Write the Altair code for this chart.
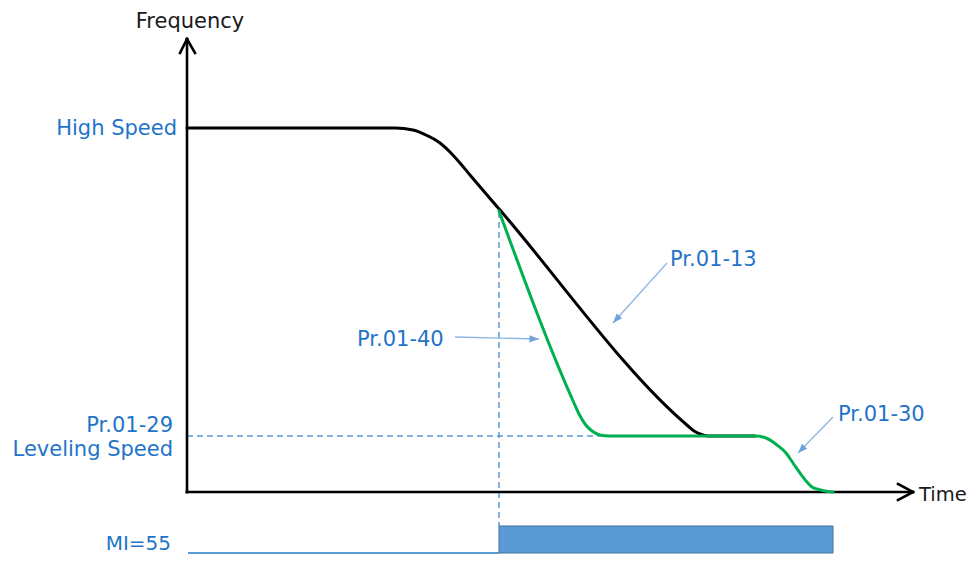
import altair as alt
import numpy as np
import pandas as pd

# ---- data (time units = arbitrary, frequency units = arbitrary) ----
black_t = [0, 208, 226, 241, 253, 263, 273, 283, 313, 501, 507, 513, 521, 568]
black_f = [364, 364, 362, 356, 349, 340, 329, 317, 282, 66, 61, 58, 56, 56]

green_t = [312, 387, 392, 398, 405, 413, 423, 568, 579, 590, 599, 606, 613, 620, 625, 630, 638, 646]
green_f = [281, 89, 78, 68, 61, 57, 56, 56, 54, 47, 39, 29, 19, 10, 5, 3, 1, 0]

# axes (with open chevron arrow heads)
axis_t = [0, 0, -7, 0, 0, 711, 726]
axis_f = [0, 0, 439, 453, 0, 8, 0]
axis_t2 = [0, 726, 0, 8, 0, 726, 711]
axis_f2 = [453, 0, 453, 439, 0, 0, -8]

# dashed guides: decel switch moment and leveling speed
dash_t = [312, 0]
dash_f = [280, 56]
dash_t2 = [312, 513]
dash_f2 = [-34, 56]

# MI=55 signal
mi_line_t = [1, 312]
mi_line_f = [-61, -61]
mi_bar_t, mi_bar_t2 = [312], [646]
mi_bar_f, mi_bar_f2 = [-34], [-61]

# annotation arrows (start -> tip)
arr_t = [480, 268, 646]
arr_f = [229, 155, 75]
arr_t2 = [426, 352, 611]
arr_f2 = [169, 153, 39]

# labels
lab_text = ["Frequency", "High Speed", "Pr.01-29", "Leveling Speed", "MI=55", "Time",
            "Pr.01-13", "Pr.01-40", "Pr.01-30"]
lab_t = [3, -10, -14, -14, -16, 732, 483, 170, 651]
lab_f = [464, 357, 60, 36, -58, -9, 226, 146, 71]
lab_size = [21, 21, 21, 21, 20, 19.5, 21, 21, 21]
lab_align = ["center", "right", "right", "right", "right", "left", "left", "left", "left"]
lab_color = ["#1a1a1a", "#1f74c9", "#1f74c9", "#1f74c9", "#1f74c9", "#1a1a1a",
             "#1f74c9", "#1f74c9", "#1f74c9"]

BLUE = "#5B9BD5"

xs = alt.Scale(domain=[-179, 780], nice=False, zero=False)
ys = alt.Scale(domain=[-63, 484], nice=False, zero=False)
X = lambda f="t": alt.X(f"{f}:Q", scale=xs, axis=None)
Y = lambda f="f": alt.Y(f"{f}:Q", scale=ys, axis=None)

black = pd.DataFrame({"t": black_t, "f": black_f, "i": range(len(black_t))})
green = pd.DataFrame({"t": green_t, "f": green_f, "i": range(len(green_t))})
axes = pd.DataFrame({"t": axis_t, "f": axis_f, "t2": axis_t2, "f2": axis_f2})
dash = pd.DataFrame({"t": dash_t, "f": dash_f, "t2": dash_t2, "f2": dash_f2})
mil = pd.DataFrame({"t": mi_line_t, "f": mi_line_f, "i": [0, 1]})
mib = pd.DataFrame({"t": mi_bar_t, "t2": mi_bar_t2, "f": mi_bar_f, "f2": mi_bar_f2})
arr = pd.DataFrame({"t": arr_t, "f": arr_f, "t2": arr_t2, "f2": arr_f2})
arr["ang"] = (np.degrees(np.arctan2(arr["t2"] - arr["t"], arr["f2"] - arr["f"])) + 360) % 360
labs = pd.DataFrame({"t": lab_t, "f": lab_f, "text": lab_text, "align": lab_align,
                     "color": lab_color, "size": lab_size})

layers = []

layers.append(alt.Chart(dash).mark_rule(color=BLUE, strokeWidth=1.5, strokeDash=[6, 4]).encode(
    x=X(), y=Y(), x2="t2:Q", y2="f2:Q"))

layers.append(alt.Chart(axes).mark_rule(color="black", strokeWidth=2.6, strokeCap="square").encode(
    x=X(), y=Y(), x2="t2:Q", y2="f2:Q"))

layers.append(alt.Chart(black).mark_line(color="black", strokeWidth=3, interpolate="monotone",
                                         strokeCap="round", strokeJoin="round").encode(
    x=X(), y=Y(), order="i:Q"))

layers.append(alt.Chart(green).mark_line(color="#00B050", strokeWidth=3, interpolate="monotone",
                                         strokeCap="round", strokeJoin="round").encode(
    x=X(), y=Y(), order="i:Q"))

layers.append(alt.Chart(mil).mark_line(color=BLUE, strokeWidth=2).encode(x=X(), y=Y(), order="i:Q"))

layers.append(alt.Chart(mib).mark_rect(color=BLUE, stroke="#41719C", strokeWidth=1).encode(
    x=X(), y=Y(), x2="t2:Q", y2="f2:Q"))

layers.append(alt.Chart(arr).mark_rule(color="#8DB6E3", strokeWidth=1.3).encode(
    x=X(), y=Y(), x2="t2:Q", y2="f2:Q"))

layers.append(alt.Chart(arr).mark_point(shape="M0,0L-0.42,1.1L0.42,1.1Z", filled=True,
                                        color="#6FA3DA", opacity=1, size=300).encode(
    x=X("t2"), y=Y("f2"), angle=alt.Angle("ang:Q", scale=None)))

for al in ["center", "right", "left"]:
    layers.append(alt.Chart(labs[labs["align"] == al]).mark_text(
        align=al, baseline="alphabetic", font="DejaVu Sans").encode(
        x=X(), y=Y(), text="text:N", color=alt.Color("color:N", scale=None),
        size=alt.Size("size:Q", scale=None)))

chart = alt.layer(*layers).properties(
    width=959, height=547, autosize="none", padding=0
).configure_view(strokeWidth=0)

chart.save("out.html", embed_options={"renderer": "svg", "actions": False})
